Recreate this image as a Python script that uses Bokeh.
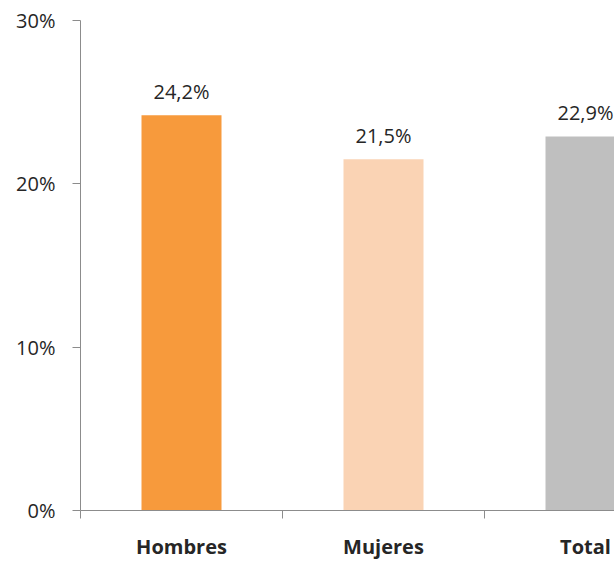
from bokeh.plotting import figure
from bokeh.models import Range1d, FixedTicker, NumeralTickFormatter, ColumnDataSource
from bokeh.embed import file_html
from bokeh.resources import INLINE
from bokeh.core.properties import value

categories = ["Hombres", "Mujeres", "Total"]
values = [0.242, 0.215, 0.229]
labels = ["24,2%", "21,5%", "22,9%"]
colors = ["#F79A3C", "#FAD3B4", "#BFBFBF"]

xs = [i + 0.5 for i in range(len(categories))]
src = ColumnDataSource(dict(x=xs, top=values, label=labels, color=colors))

FONT = "Open Sans"
W, H = 614, 562
LEFT, TOP, BOTTOM = 80, 20, 52

p = figure(width=W, height=H, output_backend="svg", toolbar_location=None,
           x_range=Range1d(0, (W - LEFT) / 202), y_range=Range1d(0, 0.30),
           min_border_left=LEFT, min_border_right=0, min_border_top=TOP, min_border_bottom=BOTTOM)
p.outline_line_color = None
p.xgrid.visible = False
p.ygrid.visible = False

p.vbar(x="x", top="top", width=80 / 202, color="color", source=src, line_color=None)
p.text(x="x", y="top", text="label", source=src, text_align="center", text_baseline="bottom",
       y_offset=-10, text_font=value(FONT), text_font_size="20px", text_color="#262626")

ax = p.xaxis[0]
ax.ticker = FixedTicker(ticks=xs, minor_ticks=[0, 1, 2, 3])
ax.major_label_overrides = {x: c for x, c in zip(xs, categories)}
ax.major_tick_out = 0
ax.major_tick_in = 0
ax.minor_tick_out = 8
ax.minor_tick_in = 0
ax.minor_tick_line_color = "#8C8C8C"
ax.axis_line_color = "#8C8C8C"
ax.major_label_standoff = 14
ax.major_label_text_font = FONT
ax.major_label_text_font_size = "20px"
ax.major_label_text_font_style = "bold"
ax.major_label_text_color = "#262626"

ay = p.yaxis[0]
ay.ticker = FixedTicker(ticks=[0, 0.1, 0.2, 0.3])
ay.formatter = NumeralTickFormatter(format="0%")
ay.major_tick_out = 8
ay.major_tick_in = 0
ay.minor_tick_out = 0
ay.minor_tick_in = 0
ay.major_tick_line_color = "#8C8C8C"
ay.axis_line_color = "#8C8C8C"
ay.major_label_standoff = 17
ay.major_label_text_font = FONT
ay.major_label_text_font_size = "20px"
ay.major_label_text_color = "#262626"

open("out.html", "w").write(file_html(p, INLINE))
